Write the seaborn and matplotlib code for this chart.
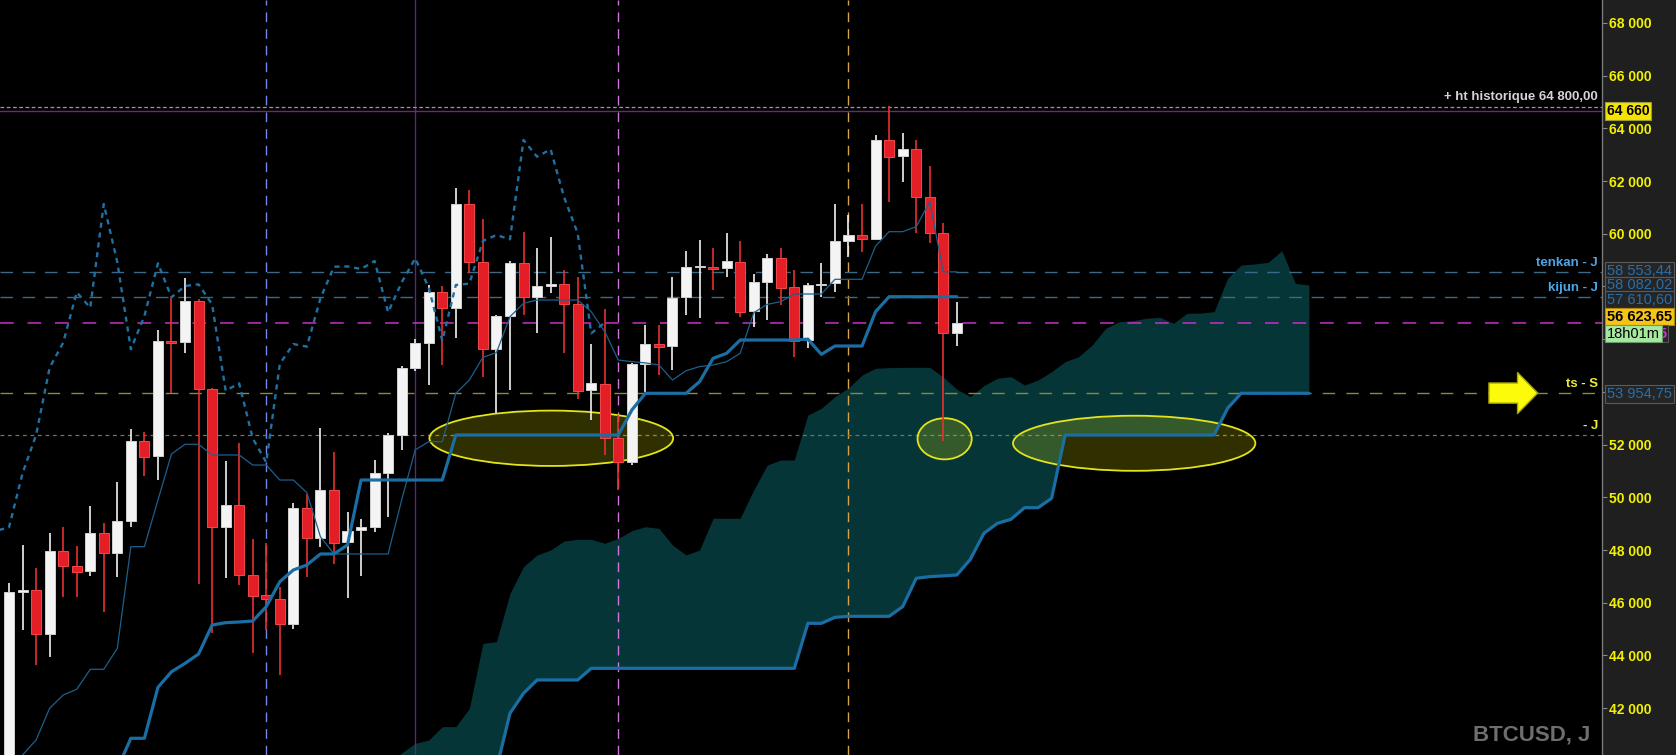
import numpy as np
import matplotlib
matplotlib.use("Agg")
import matplotlib.pyplot as plt
import seaborn as sns
from matplotlib.patches import Ellipse
from matplotlib.ticker import FuncFormatter
from matplotlib.transforms import blended_transform_factory

# daily candles (index 0 = first visible day)
opens = [39600, 46400, 46483, 44814, 47963, 47394, 47216, 48634, 47898, 49112,
         52136, 51579, 55942, 55904, 57448, 54097, 48885, 49697, 47040, 46281,
         46130, 45193, 49583, 48467, 50290, 48316, 48760, 48885, 50934, 52363,
         54895, 55866, 57778, 57194, 61128, 58916, 55639, 56879, 58878, 57588,
         58020, 58093, 57321, 54071, 54286, 52237, 51326, 55058, 55805, 55740,
         57588, 58720, 58749, 58712, 58916, 57068, 58180, 59065, 57967, 55968,
         58050, 58120, 59738, 59951, 59800, 63556, 62960, 63203, 61380, 60016,
         56250]
highs = [46750, 48190, 47306, 48634, 48885, 48152, 49670, 49014, 50593, 52591,
         52490, 56347, 57550, 58332, 57512, 54159, 51389, 52073, 48407, 48277,
         46608, 49773, 50138, 52618, 51731, 49455, 49166, 51415, 52450, 55000,
         56000, 58055, 58028, 61724, 61659, 60547, 56920, 58950, 60054, 59447,
         59887, 58624, 58370, 55816, 57156, 53111, 55100, 56537, 56537, 58370,
         59345, 59761, 59470, 60016, 59714, 58472, 59231, 59447, 58624, 58142,
         58878, 61128, 60698, 61128, 63746, 64850, 63810, 63556, 62570, 60395,
         57423]
lows = [39000, 44965, 43638, 43954, 46229, 46229, 47027, 45661, 46988, 48885,
        50820, 50656, 53946, 55463, 46711, 44841, 46952, 46673, 44082, 44965,
        43271, 44993, 46988, 48102, 47470, 46168, 47027, 48700, 49265, 51795,
        54800, 54261, 55020, 56032, 58500, 54576, 53187, 54071, 56917, 56222,
        57740, 55487, 53718, 52932, 51605, 50276, 51225, 54007, 54640, 54830,
        56917, 56791, 57865, 58370, 56854, 56474, 56728, 57296, 55336, 55653,
        57612, 57802, 59128, 59319, 59780, 61215, 61974, 60016, 59634, 52153,
        55740]
closes = [46419, 46470, 44814, 47963, 47394, 47178, 48634, 47875, 49101, 52136,
          51541, 55942, 55866, 57448, 54097, 48862, 49697, 47040, 46267, 46130,
          45181, 49583, 48445, 50290, 48277, 48722, 48862, 50911, 52364, 54917,
          55866, 57778, 57194, 61128, 58916, 55615, 56879, 58878, 57588, 58017,
          58080, 57321, 54045, 54324, 52237, 51326, 55058, 55816, 55715, 57550,
          58749, 58760, 58662, 58965, 57019, 58156, 59065, 57952, 55942, 58055,
          58110, 59727, 59951, 59789, 63556, 62922, 63203, 61380, 60016, 56222,
          56623.65]

tenkan = [39600, 40225, 40793, 41995, 42500, 42715, 43474, 43474, 44270, 48128,
          48128, 49898, 51643, 52011, 52011, 51605, 51605, 51605, 51225, 51225,
          50656, 50656, 50175, 48505, 47850, 47850, 47850, 47850, 47850, 49900,
          51800, 52110, 52110, 53946, 54450, 55311, 55487, 56854, 57360, 57486,
          57486, 57486, 57486, 57042, 56283, 55208, 55146, 55100, 55020, 54450,
          54800, 54960, 55020, 55146, 55463, 57004, 57321, 57423, 57713, 57713,
          57713, 58271, 58271, 58271, 59534, 60078, 60078, 60268, 61215, 58553,
          58553]
kijun = [np.nan] * 8 + [
    39700, 40857, 40857, 42791, 43383, 43700, 44054, 45155, 45244, 45270,
    45307, 45851, 46799, 47243, 47432, 47850, 47850, 48191, 50656, 50656,
    50656, 50656, 50656, 50656, 50656, 52364, 52364, 52364, 52364, 52364,
    52364, 52364, 52364, 52364, 52364, 52364, 52364, 52364, 53312, 53946,
    53946, 53946, 53946, 54387, 55273, 55463, 55968, 55968, 55968, 55968,
    55968, 56000, 55425, 55740, 55740, 55740, 57042, 57610, 57610, 57610,
    57610, 57610, 57610]

# cloud, projected 26 days ahead (index 28 .. 96)
cloud_start = 28
senkou_a = [39800, 40300, 40666, 40793, 41299, 41299, 41995, 44460, 44522, 46358,
            47369, 47812, 48000, 48342, 48406, 48406, 48254, 48444, 48733, 48885,
            48823, 48191, 47812, 48000, 49203, 49203, 49203, 50277, 51225, 51415,
            51415, 53123, 53377, 53819, 54150, 54640, 54894, 54920, 54930, 54932,
            54932, 54560, 54100, 53819, 54240, 54515, 54576, 54261, 54450, 54766,
            55146, 55336, 55778, 56412, 56664, 56702, 56791, 56829, 56601, 56981,
            56990, 57042, 58308, 58814, 58852, 58916, 59356, 58118, 58055]
senkou_b = [39000, 39000, 39000, 39000, 39000, 39000, 39000, 39000, 39700, 41805,
            42564, 43070, 43070, 43070, 43070, 43512, 43512, 43512, 43512, 43512,
            43512, 43512, 43512, 43512, 43512, 43512, 43512, 43512, 43512, 43512,
            43512, 45219, 45219, 45446, 45484, 45484, 45484, 45484, 45851, 46927,
            46990, 47020, 47053, 47648, 48634, 49014, 49166, 49606, 49606, 49962,
            52364, 52364, 52364, 52364, 52364, 52364, 52364, 52364, 52364, 52364,
            52364, 52364, 53377, 53946, 53946, 53946, 53946, 53946, 53946]

chikou_shift = 26
vline_days = [19, 30, 45, 62]
hist_high = 64800
period_high = 64660
tenkan_level = 58553.44
kijun_level = 57610.60
last_price = 56623.65
ts_week_level = 53954.75
j_level = 52364
extra_level = 58082.02
y_ticks = list(range(42000, 68001, 2000))
# tick labels covered by the price boxes in the reference
hidden_ticks = [54000, 56000, 58000]
# (centre day, centre price, width in days, height in price)
ellipses = [(40.05, 52240, 18.0, 2100), (69.1, 52220, 4.0, 1560), (83.1, 52050, 17.9, 2090)]


def fr_num(v, dec=False):
    s = f"{v:,.2f}" if dec else f"{v:,.0f}"
    return s.replace(",", " ").replace(".", ",")


sns.set_style("dark", {"axes.facecolor": "black"})
plt.rcParams["font.family"] = ["Liberation Sans", "DejaVu Sans"]

fig = plt.figure(figsize=(16.76, 7.55), dpi=100)
fig.patch.set_facecolor("#1f1f1f")
ax = fig.add_axes([0, 0, 1602 / 1676, 1])
ax.set_facecolor("black")
ax.grid(False)

idx = np.arange(len(closes))
o = np.array(opens, float)
c = np.array(closes, float)
h = np.array(highs, float)
l = np.array(lows, float)
up = c >= o

# cloud
cx = np.arange(cloud_start, cloud_start + len(senkou_a))
ax.fill_between(cx, senkou_b, senkou_a, color="#063537", lw=0, zorder=1)

# vertical day markers
vstyles = [("#7688e8", (0, (7, 5)), 1.0), ("#5c2680", "-", 1.0),
           ("#d275e0", (0, (7, 5)), 1.0), ("#d9a24a", (0, (7, 5)), 1.0)]
for d, (col, ls, lw) in zip(vline_days, vstyles):
    ax.axvline(d, color=col, ls=ls, lw=lw, zorder=1.5)

# horizontal levels
ax.axhline(hist_high, color="#9a9a9a", ls=(0, (3, 2)), lw=0.9, zorder=1.5)
ax.axhline(period_high, color="#6a2a7a", ls="-", lw=1.0, zorder=1.5)
ax.axhline(tenkan_level, color="#3a6a88", ls=(0, (9, 7)), lw=1.0, zorder=1.5)
ax.axhline(kijun_level, color="#3a6a88", ls=(0, (9, 7)), lw=1.0, zorder=1.5)
ax.axhline(last_price, color="#c82ec8", ls=(0, (9, 9)), lw=1.1, zorder=1.5)
ax.axhline(ts_week_level, color="#8a8a3a", ls=(0, (9, 8)), lw=1.0, zorder=1.5)
ax.axhline(j_level, color="#77774a", ls=(0, (3, 3)), lw=0.9, zorder=1.5)

# highlight ellipses
for ex, ey, ew, eh in ellipses:
    ax.add_patch(Ellipse((ex, ey), ew, eh, facecolor=(1, 1, 0, 0.19),
                         edgecolor="#e4e41c", lw=1.3, zorder=2))

# candles
wick_col = np.where(up, "#f2f2f2", "#e83030")
ax.vlines(idx, l, h, colors=wick_col, lw=1.2, zorder=3)
ax.bar(idx, np.abs(c - o), bottom=np.minimum(o, c), width=0.74,
       color=np.where(up, "#f4f4f4", "#e41e26"),
       edgecolor=np.where(up, "#d0d0d0", "#f04848"), linewidth=0.7, zorder=3.2)

# ichimoku lines
sns.lineplot(x=idx, y=tenkan, ax=ax, color="#1d5f8c", linewidth=0.9, zorder=4)
sns.lineplot(x=idx, y=kijun, ax=ax, color="#1a6ea4", linewidth=2.3, zorder=4)
sns.lineplot(x=cx, y=senkou_b, ax=ax, color="#1a6ea4", linewidth=2.3, zorder=4)
sns.lineplot(x=idx[chikou_shift - 1:] - chikou_shift, y=c[chikou_shift - 1:], ax=ax,
             color="#1f70a3", linewidth=1.7, linestyle=(0, (2.2, 2.0)), zorder=4)

ax.set_xlim(-0.665, 117.65)
ax.set_ylim(40223, 68868)
ax.set_xticks([])
ax.set_xlabel("")
ax.set_ylabel("")

# price axis on the right
ax.yaxis.tick_right()
ax.set_yticks(y_ticks)
ax.yaxis.set_major_formatter(
    FuncFormatter(lambda v, p: "" if int(round(v)) in hidden_ticks else fr_num(v)))
ax.tick_params(axis="y", which="both", right=True, left=False, length=3.5,
               width=0.8, color="#8a8a8a", labelcolor="#f2f200",
               labelsize=10, pad=1.5)
for lab in ax.get_yticklabels():
    lab.set_fontweight("bold")
for side in ["left", "top", "bottom"]:
    ax.spines[side].set_visible(False)
ax.spines["right"].set_color("#7a7a7a")
ax.spines["right"].set_linewidth(1.0)

tr = blended_transform_factory(ax.transAxes, ax.transData)

# level captions inside the chart
ax.text(0.9975, hist_high + 150, "+ ht historique " + fr_num(hist_high, True),
        transform=tr, ha="right", va="bottom", color="#d4d4d4", fontsize=9.5,
        fontweight="bold")
ax.text(0.9975, tenkan_level + 120, "tenkan - J", transform=tr, ha="right",
        va="bottom", color="#4ca6e6", fontsize=9.5, fontweight="bold")
ax.text(0.9975, kijun_level + 120, "kijun - J", transform=tr, ha="right",
        va="bottom", color="#4ca6e6", fontsize=9.5, fontweight="bold")
ax.text(0.9975, ts_week_level + 120, "ts - S", transform=tr, ha="right",
        va="bottom", color="#ecec3a", fontsize=9.5, fontweight="bold")
ax.text(0.9975, j_level + 120, "- J", transform=tr, ha="right",
        va="bottom", color="#ecec3a", fontsize=9.5, fontweight="bold")

# price boxes on the axis
def price_box(value, text, fc, tc, ec, dy=0, weight="bold", size=10):
    ax.annotate(text, xy=(1.003, value), xycoords=tr, xytext=(0, dy),
                textcoords="offset pixels", ha="left", va="center",
                color=tc, fontsize=size, fontweight=weight, annotation_clip=False,
                bbox=dict(boxstyle="square,pad=0.12", fc=fc, ec=ec, lw=0.8),
                zorder=10)


price_box(period_high, fr_num(period_high), "#f4e400", "black", "#9a9a40")
blue_box = ("#252525", "#2a6ea8", "#5a5a5a")
price_box(tenkan_level, fr_num(tenkan_level, True), *blue_box, dy=1, weight="normal", size=10.5)
price_box(extra_level, fr_num(extra_level, True), *blue_box, dy=-1, weight="normal", size=10.5)
price_box(kijun_level, fr_num(kijun_level, True), *blue_box, dy=-3, weight="normal", size=10.5)
price_box(ts_week_level, fr_num(ts_week_level, True), *blue_box, dy=-1, weight="normal", size=10.5)
price_box(last_price, fr_num(last_price, True), "#f6c416", "black", "#b08a10",
          dy=6, size=10.5)
ax.annotate("5", xy=(1.0355, last_price), xycoords=tr, xytext=(0, -11),
            textcoords="offset pixels", ha="left", va="center", color="#d030d0",
            fontsize=10.5, fontweight="bold", annotation_clip=False,
            bbox=dict(boxstyle="square,pad=0.1", fc="#262626", ec="#555555", lw=0.8),
            zorder=10)
price_box(last_price, "18h01m", "#a6e8a0", "black", "#6a9a6a", dy=-11,
          weight="normal", size=10.5)

# yellow arrow pointing at the weekly level
ax.annotate("", xy=(112.9, ts_week_level), xytext=(109.3, ts_week_level),
            arrowprops=dict(arrowstyle="simple,head_length=1.45,head_width=2.95,tail_width=1.45",
                            fc="#fbfb0a", ec="#a8a800", lw=1.0, mutation_scale=10,
                            shrinkA=0, shrinkB=0), zorder=6)

fig.text(1590 / 1676, 1 - 740 / 755, "BTCUSD, J", ha="right", va="baseline",
         color="#6e6e6e", fontsize=16, fontweight="bold")

fig.savefig("out.png", dpi=100, facecolor=fig.get_facecolor())
